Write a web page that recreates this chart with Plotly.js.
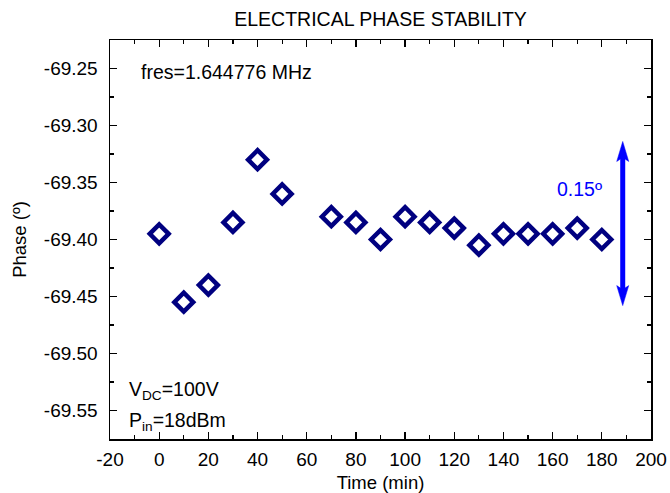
<!DOCTYPE html>
<html>
<head>
<meta charset="utf-8">
<script src="https://cdn.plot.ly/plotly-3.0.1.min.js"></script>
<style>html,body{margin:0;padding:0;background:#fff;}#chart{width:670px;height:493px;}</style>
</head>
<body>
<div id="chart"></div>
<script>
// Data
var timeMin = [0, 10, 20, 30, 40, 50, 70, 80, 90, 100, 110, 120, 130, 140, 150, 160, 170, 180];
var phaseDeg = [-69.395, -69.455, -69.44, -69.385, -69.33, -69.36, -69.38, -69.385, -69.40, -69.38, -69.385, -69.39, -69.405, -69.395, -69.395, -69.395, -69.39, -69.40];
var arrowX = [188.5, 188.5];
var arrowY = [-69.314, -69.458];
var spanLabel = "0.15º";
var spanLabelPos = [171, -69.356];
var xTickVals = [-20, 0, 20, 40, 60, 80, 100, 120, 140, 160, 180, 200];
var yTickVals = [-69.55, -69.50, -69.45, -69.40, -69.35, -69.30, -69.25];

var FONT = 'Liberation Sans, Arial, Helvetica, sans-serif';
var W = 670, H = 493;
var M = {l: 110, r: 19, t: 40, b: 54};
var yRange = [-69.575, -69.225];

var trace = {
  x: timeMin, y: phaseDeg, type: 'scatter', mode: 'markers',
  marker: {symbol: 'diamond-open', size: 14.5, color: '#000080', line: {width: 4.5, color: '#000080'}},
  showlegend: false, hoverinfo: 'skip'
};

var axisCommon = {
  showline: true, linecolor: '#000', linewidth: 1.5, mirror: 'ticks',
  ticks: 'inside', ticklen: 7, tickwidth: 1.2, tickcolor: '#000',
  showgrid: false, zeroline: false,
  tickfont: {family: FONT, size: 19, color: '#000'}
};

// arrow: shaft in data coords, heads as pixel-sized paths anchored at the tips
var pxPerUnit = (H - M.t - M.b) / (yRange[1] - yRange[0]);
var headLen = 20, headHalfW = 6;
var shaftInset = 12 / pxPerUnit;
var shapes = [
  {type: 'line', xref: 'x', yref: 'y', x0: arrowX[0], x1: arrowX[1],
   y0: arrowY[0] - shaftInset, y1: arrowY[1] + shaftInset, line: {color: '#0000ff', width: 5}},
  {type: 'path', xref: 'x', yref: 'y', xsizemode: 'pixel', ysizemode: 'pixel',
   xanchor: arrowX[0], yanchor: arrowY[0],
   path: 'M0,0 L' + (-headHalfW) + ',' + (-headLen) + ' L0,' + (-headLen + 4) + ' L' + headHalfW + ',' + (-headLen) + ' Z',
   fillcolor: '#0000ff', line: {color: '#0000ff', width: 0.5}},
  {type: 'path', xref: 'x', yref: 'y', xsizemode: 'pixel', ysizemode: 'pixel',
   xanchor: arrowX[1], yanchor: arrowY[1],
   path: 'M0,0 L' + (-headHalfW) + ',' + headLen + ' L0,' + (headLen - 4) + ' L' + headHalfW + ',' + headLen + ' Z',
   fillcolor: '#0000ff', line: {color: '#0000ff', width: 0.5}}
];

var layout = {
  width: W, height: H,
  margin: M,
  paper_bgcolor: '#fff', plot_bgcolor: '#fff',
  title: {text: 'ELECTRICAL PHASE STABILITY', font: {family: FONT, size: 19.5, color: '#000'}, x: 0.568, xanchor: 'center', y: 0.962, yanchor: 'middle'},
  xaxis: Object.assign({}, axisCommon, {
    range: [-20, 200], tickmode: 'array', tickvals: xTickVals,
    ticktext: xTickVals.map(function(v){return String(v);}),
    ticklabelstandoff: 3,
    minor: {dtick: 10, ticks: 'inside', ticklen: 4, tickwidth: 1.2, tickcolor: '#000'},
    title: {text: 'Time (min)', font: {family: FONT, size: 18.5, color: '#000'}, standoff: 8}
  }),
  yaxis: Object.assign({}, axisCommon, {
    range: yRange, tickmode: 'array', tickvals: yTickVals,
    ticktext: yTickVals.map(function(v){return v.toFixed(2);}),
    ticklabelstandoff: 7,
    minor: {dtick: 0.025, tick0: -69.25, ticks: 'inside', ticklen: 4, tickwidth: 1.2, tickcolor: '#000'},
    title: {text: 'Phase (º)', font: {family: FONT, size: 18.5, color: '#000'}, standoff: 12}
  }),
  shapes: shapes,
  annotations: [
    {x: spanLabelPos[0], y: spanLabelPos[1], xref: 'x', yref: 'y', text: spanLabel, showarrow: false,
     font: {family: FONT, size: 19.5, color: '#0000ff'}, xanchor: 'center', yanchor: 'middle'},
    {x: 0.053, y: 0.921, xref: 'paper', yref: 'paper', text: 'fres=1.644776 MHz', showarrow: false,
     font: {family: FONT, size: 19.5, color: '#000'}, xanchor: 'left', yanchor: 'middle'},
    {x: 0.031, y: 0.122, xref: 'paper', yref: 'paper', text: 'V<sub>DC</sub>=100V', showarrow: false,
     font: {family: FONT, size: 19.5, color: '#000'}, xanchor: 'left', yanchor: 'middle'},
    {x: 0.031, y: 0.044, xref: 'paper', yref: 'paper', text: 'P<sub>in</sub>=18dBm', showarrow: false,
     font: {family: FONT, size: 19.5, color: '#000'}, xanchor: 'left', yanchor: 'middle'}
  ]
};

Plotly.newPlot('chart', [trace], layout, {staticPlot: true, displayModeBar: false});
</script>
</body>
</html>
